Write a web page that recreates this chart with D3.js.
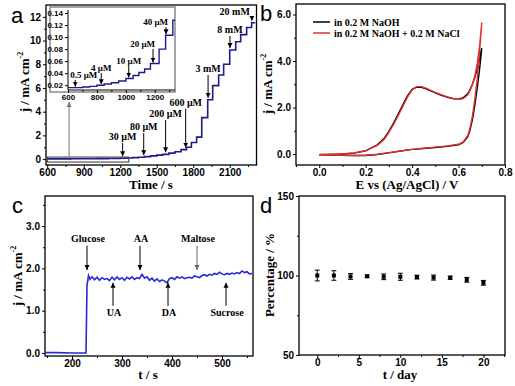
<!DOCTYPE html>
<html>
<head>
<meta charset="utf-8">
<script src="https://cdn.jsdelivr.net/npm/d3@7"></script>
<style>
  body { margin: 0; background: #fff; }
  svg { display: block; }
  .tick text { font-family: "Liberation Sans", Arial, sans-serif; font-weight: bold; font-size: 10px; fill: #000; }
  .inset .tick text { font-size: 8px; }
  .title { font-family: "Liberation Serif", "Times New Roman", serif; font-weight: bold; font-size: 13px; }
  .ann { font-family: "Liberation Serif", "Times New Roman", serif; font-weight: bold; font-size: 10px; }
  .inset .ann { font-size: 9px; }
  .letter { font-family: "Liberation Sans", Arial, sans-serif; font-size: 22px; }
</style>
</head>
<body>
<svg width="515" height="386"></svg>
<script>
  var svg = d3.select("svg");

  // ---------- data ----------
  // a: amperometric response, staircase (time s, j mA cm-2)
  var tA = [600, 700, 800, 900, 1000, 1100, 1200, 1250, 1300, 1350, 1400, 1450, 1500, 1550, 1600, 1650, 1700, 1745, 1785, 1828, 1870, 1919, 1960, 2009, 2050, 2100, 2149, 2190, 2239, 2280, 2310];
  var jA = [0.02, 0.02, 0.03, 0.03, 0.04, 0.05, 0.07, 0.09, 0.12, 0.16, 0.21, 0.27, 0.33, 0.4, 0.5, 0.62, 0.8, 1.0, 1.4, 1.85, 3.5, 5.0, 6.2, 7.1, 8.0, 9.2, 9.9, 10.5, 11.1, 11.5, 11.5];
  var annA = ["30 μM", "80 μM", "200 μM", "600 μM", "3 mM", "8 mM", "20 mM"];
  var annAt = [1220, 1393, 1573, 1738, 1922, 2102, 2282];
  var annAlevel = [1.86, 2.7, 3.8, 4.75, 7.6, 10.9, 12.4];

  // a inset: low concentration part
  var tIn = [600, 650, 700, 750, 800, 850, 900, 950, 1000, 1050, 1090, 1130, 1170, 1230, 1275, 1325, 1340];
  var jIn = [0.016, 0.016, 0.017, 0.018, 0.02, 0.022, 0.024, 0.027, 0.031, 0.036, 0.041, 0.047, 0.056, 0.08, 0.103, 0.128, 0.128];
  var annIn = ["0.5 μM", "4 μM", "10 μM", "20 μM", "40 μM"];
  var annInt = [650, 830, 1020, 1188, 1278];
  var annInlevel = [0.037, 0.0486, 0.060, 0.0885, 0.125];

  // b: cyclic voltammograms
  var eFwd = [0.00, 0.05, 0.10, 0.15, 0.20, 0.25, 0.28, 0.30, 0.32, 0.34, 0.36, 0.38, 0.40, 0.42, 0.44, 0.46, 0.48, 0.50, 0.52, 0.54, 0.56, 0.58, 0.60, 0.62, 0.64, 0.65, 0.66, 0.67, 0.68, 0.69, 0.70];
  var jBlackFwd = [-0.03, -0.02, 0.0, 0.04, 0.14, 0.4, 0.68, 0.98, 1.33, 1.72, 2.12, 2.5, 2.78, 2.88, 2.87, 2.8, 2.72, 2.63, 2.55, 2.48, 2.42, 2.37, 2.36, 2.42, 2.6, 2.78, 3.0, 3.3, 3.65, 4.1, 4.55];
  var jRedFwd = [-0.02, -0.01, 0.01, 0.05, 0.14, 0.37, 0.64, 0.93, 1.27, 1.65, 2.05, 2.45, 2.76, 2.9, 2.9, 2.83, 2.74, 2.65, 2.57, 2.5, 2.44, 2.38, 2.35, 2.38, 2.55, 2.75, 3.0, 3.35, 3.85, 4.6, 5.65];
  var eRev = [0.70, 0.69, 0.68, 0.67, 0.66, 0.65, 0.64, 0.62, 0.60, 0.55, 0.50, 0.45, 0.40, 0.35, 0.30, 0.25, 0.20, 0.15, 0.10, 0.05, 0.00];
  var jBlackRev = [4.55, 3.6, 2.8, 2.1, 1.5, 1.05, 0.75, 0.5, 0.4, 0.33, 0.28, 0.24, 0.2, 0.13, 0.05, -0.02, -0.06, -0.06, -0.05, -0.04, -0.03];
  var jRedRev = [5.65, 4.3, 3.2, 2.35, 1.65, 1.15, 0.8, 0.52, 0.42, 0.35, 0.3, 0.25, 0.2, 0.13, 0.06, -0.01, -0.05, -0.06, -0.05, -0.04, -0.03];
  var legendB = ["in 0.2 M NaOH", "in 0.2 M NaOH + 0.2 M NaCl"];

  // c: interference test
  var tC = [147, 170, 200, 228, 230, 233, 236, 240, 245, 250, 255, 260, 265, 270, 275, 280, 285, 290, 295, 300, 305, 310, 315, 320, 325, 330, 335, 340, 345, 350, 355, 360, 365, 370, 375, 380, 385, 390, 395, 400, 405, 410, 415, 420, 425, 430, 435, 440, 445, 450, 455, 460, 465, 470, 475, 480, 485, 490, 495, 500, 505, 510, 515, 520, 525, 530, 535, 540, 545, 550, 555, 560];
  var jC = [0.01, 0.01, 0.0, 0.0, 1.6, 1.83, 1.74, 1.8, 1.73, 1.79, 1.72, 1.78, 1.74, 1.76, 1.71, 1.79, 1.73, 1.8, 1.74, 1.78, 1.72, 1.79, 1.75, 1.8, 1.74, 1.78, 1.76, 1.86, 1.77, 1.8, 1.72, 1.77, 1.7, 1.75, 1.69, 1.73, 1.7, 1.66, 1.76, 1.78, 1.74, 1.8, 1.77, 1.8, 1.76, 1.78, 1.79, 1.77, 1.82, 1.8, 1.78, 1.83, 1.85, 1.82, 1.86, 1.84, 1.88, 1.86, 1.91, 1.87, 1.85, 1.88, 1.86, 1.89, 1.87, 1.9, 1.88, 1.94, 1.9, 1.92, 1.87, 1.88];
  var annCdown = ["Glucose", "AA", "Maltose"];
  var annCdownT = [230, 336, 450];
  var annCup = ["UA", "DA", "Sucrose"];
  var annCupT = [282, 392, 508];

  // d: stability
  var dayD = [0, 2, 4, 6, 8, 10, 12, 14, 16, 18, 20];
  var pctD = [100, 100, 99.4, 99.5, 99.2, 99.2, 99, 98.7, 98.6, 97.3, 95.4];
  var errD = [3.4, 3.0, 1.8, 0.8, 1.8, 2.2, 1.2, 1.6, 1.0, 1.5, 1.5];

  // ---------- helpers ----------
  svg.append("defs").append("marker")
    .attr("id", "ah").attr("viewBox", "0 0 10 10")
    .attr("refX", 10).attr("refY", 5)
    .attr("markerWidth", 5).attr("markerHeight", 6)
    .attr("orient", "auto")
    .append("path").attr("d", "M0,0L10,5L0,10z").attr("fill", "context-stroke");

  var stepVal = function (ts, js, t) {
    var i = d3.bisectRight(ts, t) - 1;
    return js[Math.max(0, i)];
  };

  var axes = function (g, x, y, o) {
    var y0 = y.range()[0], y1 = y.range()[1], x0 = x.range()[0], x1 = x.range()[1];
    var bx = g.append("g").attr("transform", "translate(0," + y0 + ")");
    bx.append("g").call(d3.axisBottom(x).tickValues(o.xMinor).tickSize(2).tickFormat(""));
    bx.append("g").call(d3.axisBottom(x).tickValues(o.xTicks).tickSize(3).tickPadding(1).tickFormat(o.xFmt));
    var ly = g.append("g").attr("transform", "translate(" + x0 + ",0)");
    ly.append("g").call(d3.axisLeft(y).tickValues(o.yMinor).tickSize(2).tickFormat(""));
    ly.append("g").call(d3.axisLeft(y).tickValues(o.yTicks).tickSize(3).tickPadding(2).tickFormat(o.yFmt));
    g.selectAll(".domain").remove();
    g.selectAll(".tick line").attr("stroke", "#000").attr("stroke-width", 1);
    if (o.box !== false) {
      g.append("rect").attr("x", x0).attr("y", y1)
        .attr("width", x1 - x0).attr("height", y0 - y1)
        .attr("fill", "none").attr("stroke", "#000").attr("stroke-width", 1.3);
    }
  };

  var yTitle = function (x, y) {
    var t = svg.append("text").attr("class", "title")
      .attr("transform", "translate(" + x + "," + y + ") rotate(-90)")
      .attr("text-anchor", "middle");
    t.append("tspan").text("j / mA cm");
    t.append("tspan").attr("dy", -6).attr("font-size", "8px").text("-2");
  };

  var arrow = function (g, x, ya, yb, color) {
    g.append("line").attr("x1", x).attr("x2", x).attr("y1", ya).attr("y2", yb)
      .attr("stroke", color || "#000").attr("stroke-width", 1)
      .attr("marker-end", "url(#ah)");
  };

  // ---------- panel a ----------
  var xA = d3.scaleLinear().domain([590, 2320]).range([46, 256.5]);
  var yA = d3.scaleLinear().domain([-0.5, 13.0]).range([165, 5]);
  var gA = svg.append("g");
  var stepLine = d3.line().curve(d3.curveStepAfter);

  gA.append("path")
    .attr("d", stepLine(tA.map(function (t, i) { return [xA(t), yA(jA[i])]; })))
    .attr("fill", "none").attr("stroke", "#1c1c8a").attr("stroke-width", 1.6);

  // zoom rectangle + connector
  gA.append("rect").attr("x", xA(600)).attr("y", yA(0.17))
    .attr("width", xA(1270) - xA(600)).attr("height", yA(-0.25) - yA(0.17))
    .attr("fill", "none").attr("stroke", "#333").attr("stroke-width", 1);
  arrow(gA, xA(780), yA(0.17), 102, "#777");

  axes(gA, xA, yA, {
    xTicks: [600, 900, 1200, 1500, 1800, 2100], xMinor: [750, 1050, 1350, 1650, 1950, 2250],
    yTicks: [0, 2, 4, 6, 8, 10, 12], yMinor: [1, 3, 5, 7, 9, 11],
    xFmt: d3.format("d"), yFmt: d3.format("d")
  });

  annA.forEach(function (s, i) {
    var x = xA(annAt[i]);
    var last = i === annA.length - 1;
    gA.append("text").attr("class", "ann")
      .attr("x", last ? x - 2 : x).attr("y", yA(annAlevel[i]) + 3)
      .attr("text-anchor", last ? "end" : "middle").text(s);
    arrow(gA, x, yA(annAlevel[i]) + 6, yA(stepVal(tA, jA, annAt[i])) - 2);
  });

  // inset
  var xIn = d3.scaleLinear().domain([600, 1340]).range([68, 175]);
  var yIn = d3.scaleLinear().domain([0.012, 0.145]).range([90, 10]);
  var gIn = svg.append("g").attr("class", "inset");
  gIn.append("rect").attr("x", 50).attr("y", 7).attr("width", 125).attr("height", 85)
    .attr("fill", "#fff").attr("stroke", "#888").attr("stroke-width", 1.5);
  gIn.append("path")
    .attr("d", stepLine(tIn.map(function (t, i) { return [xIn(t), yIn(jIn[i])]; })))
    .attr("fill", "none").attr("stroke", "#1c1c8a").attr("stroke-width", 1.4);
  axes(gIn, xIn, yIn, {
    xTicks: [600, 800, 1000, 1200], xMinor: [700, 900, 1100, 1300],
    yTicks: [0.02, 0.04, 0.06, 0.08, 0.10, 0.12, 0.14], yMinor: [],
    xFmt: d3.format("d"), yFmt: d3.format(".2f"), box: false
  });
  gIn.append("line").attr("x1", 68).attr("x2", 68).attr("y1", 10).attr("y2", 90).attr("stroke", "#000");
  gIn.append("line").attr("x1", 68).attr("x2", 175).attr("y1", 90).attr("y2", 90).attr("stroke", "#000");
  annIn.forEach(function (s, i) {
    var x = xIn(annInt[i]);
    var anchor = i === 0 ? "start" : (i >= 3 ? "end" : "middle");
    var tx = i === 0 ? x - 5 : (i >= 3 ? x + 2 : x);
    gIn.append("text").attr("class", "ann")
      .attr("x", tx).attr("y", yIn(annInlevel[i]) + 3)
      .attr("text-anchor", anchor).text(s);
    arrow(gIn, x, yIn(annInlevel[i]) + 5, yIn(stepVal(tIn, jIn, annInt[i])) - 1);
  });

  svg.append("text").attr("class", "letter").attr("x", 11).attr("y", 23).text("a");
  yTitle(29, 82);
  svg.append("text").attr("class", "title").attr("x", 151).attr("y", 189)
    .attr("text-anchor", "middle").text("Time / s");

  // ---------- panel b ----------
  var xB = d3.scaleLinear().domain([-0.1, 0.8]).range([296, 505]);
  var yB = d3.scaleLinear().domain([-0.47, 6.45]).range([165, 4]);
  var gB = svg.append("g");
  var lineB = d3.line();
  var cv = function (jf, jr) {
    return lineB(eFwd.map(function (e, i) { return [xB(e), yB(jf[i])]; })
      .concat(eRev.map(function (e, i) { return [xB(e), yB(jr[i])]; })));
  };
  gB.append("path").attr("d", cv(jBlackFwd, jBlackRev))
    .attr("fill", "none").attr("stroke", "#000").attr("stroke-width", 1.4);
  gB.append("path").attr("d", cv(jRedFwd, jRedRev))
    .attr("fill", "none").attr("stroke", "#e3302f").attr("stroke-width", 1.4);
  axes(gB, xB, yB, {
    xTicks: [0, 0.2, 0.4, 0.6, 0.8], xMinor: [-0.1, 0.1, 0.3, 0.5, 0.7],
    yTicks: [0, 2, 4, 6], yMinor: [1, 3, 5],
    xFmt: d3.format(".1f"), yFmt: d3.format(".1f")
  });
  ["#000", "#e3302f"].forEach(function (c, i) {
    gB.append("line").attr("x1", 313).attr("x2", 330)
      .attr("y1", 22 + i * 11).attr("y2", 22 + i * 11)
      .attr("stroke", c).attr("stroke-width", 1.5);
    gB.append("text").attr("class", "ann").attr("x", 334).attr("y", 25.5 + i * 11).text(legendB[i]);
  });
  svg.append("text").attr("class", "letter").attr("x", 260).attr("y", 21).text("b");
  yTitle(272, 84);
  svg.append("text").attr("class", "title").attr("x", 407).attr("y", 189)
    .attr("text-anchor", "middle").text("E vs (Ag/AgCl) / V");

  // ---------- panel c ----------
  var xC = d3.scaleLinear().domain([146, 562]).range([45, 253]);
  var yC = d3.scaleLinear().domain([-0.07, 3.71]).range([356, 196]);
  var gC = svg.append("g");
  gC.append("path")
    .attr("d", d3.line()(tC.map(function (t, i) { return [xC(t), yC(jC[i])]; })))
    .attr("fill", "none").attr("stroke", "#2a2ad2").attr("stroke-width", 1.6);
  axes(gC, xC, yC, {
    xTicks: [200, 300, 400, 500], xMinor: [150, 250, 350, 450, 550],
    yTicks: [0, 1, 2, 3], yMinor: [0.5, 1.5, 2.5, 3.5],
    xFmt: d3.format("d"), yFmt: d3.format(".1f")
  });
  annCdown.forEach(function (s, i) {
    var x = xC(annCdownT[i]);
    gC.append("text").attr("class", "ann").attr("x", x + 1).attr("y", yC(2.7) + 3)
      .attr("text-anchor", "middle").text(s);
    arrow(gC, x, yC(2.7) + 7, yC(1.96), i === 2 ? "#666" : "#000");
  });
  annCup.forEach(function (s, i) {
    var x = xC(annCupT[i]);
    gC.append("text").attr("class", "ann").attr("x", x + 1).attr("y", yC(0.95) + 3)
      .attr("text-anchor", "middle").text(s);
    arrow(gC, x, yC(0.95) - 7, yC(1.66));
  });
  svg.append("text").attr("class", "letter").attr("x", 12).attr("y", 213).text("c");
  yTitle(22, 276);
  svg.append("text").attr("class", "title").attr("x", 148).attr("y", 379)
    .attr("text-anchor", "middle").text("t / s");

  // ---------- panel d ----------
  var xD = d3.scaleLinear().domain([-2.2, 22.6]).range([299, 505]);
  var yD = d3.scaleLinear().domain([50, 150]).range([355, 196]);
  var gD = svg.append("g");
  axes(gD, xD, yD, {
    xTicks: [0, 5, 10, 15, 20], xMinor: [2.5, 7.5, 12.5, 17.5, 22.5],
    yTicks: [50, 100, 150], yMinor: [75, 125],
    xFmt: d3.format("d"), yFmt: d3.format("d")
  });
  var pts = gD.selectAll(".pt").data(dayD).enter().append("g").attr("class", "pt");
  pts.append("line")
    .attr("x1", function (d) { return xD(d); }).attr("x2", function (d) { return xD(d); })
    .attr("y1", function (d, i) { return yD(pctD[i] + errD[i]); })
    .attr("y2", function (d, i) { return yD(pctD[i] - errD[i]); })
    .attr("stroke", "#000");
  [1, -1].forEach(function (sg) {
    pts.append("line")
      .attr("x1", function (d) { return xD(d) - 2.5; }).attr("x2", function (d) { return xD(d) + 2.5; })
      .attr("y1", function (d, i) { return yD(pctD[i] + sg * errD[i]); })
      .attr("y2", function (d, i) { return yD(pctD[i] + sg * errD[i]); })
      .attr("stroke", "#000");
  });
  pts.append("rect")
    .attr("x", function (d) { return xD(d) - 2; })
    .attr("y", function (d, i) { return yD(pctD[i]) - 2; })
    .attr("width", 4).attr("height", 4).attr("fill", "#000");
  svg.append("text").attr("class", "letter").attr("x", 260).attr("y", 213).text("d");
  svg.append("text").attr("class", "title")
    .attr("transform", "translate(274,275) rotate(-90)")
    .attr("text-anchor", "middle").text("Percentage / %");
  svg.append("text").attr("class", "title").attr("x", 400).attr("y", 379)
    .attr("text-anchor", "middle").text("t / day");
</script>
</body>
</html>
